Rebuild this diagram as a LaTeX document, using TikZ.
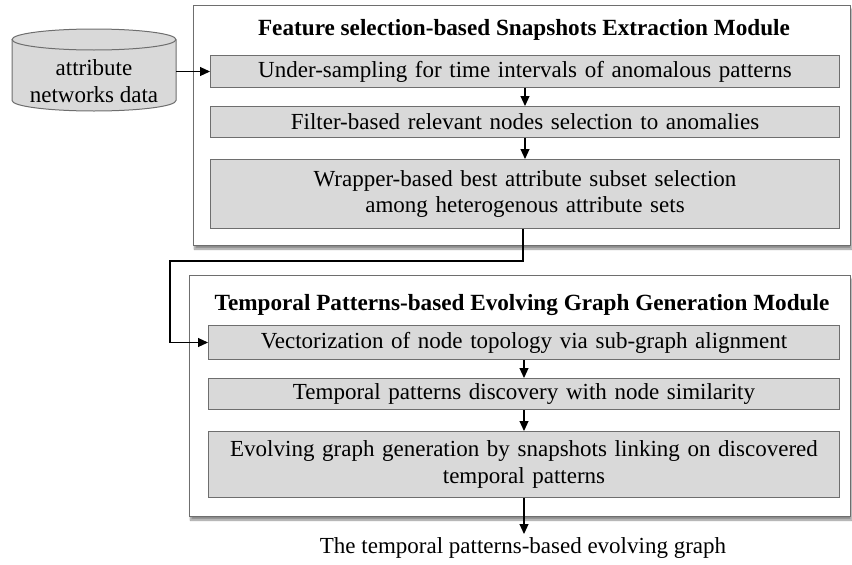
\documentclass[tikz,border=0pt]{standalone}
\usepackage{fontspec}
\setmainfont{Liberation Serif}
\usetikzlibrary{arrows.meta,shadows.blur}
\definecolor{stepgray}{HTML}{D9D9D9}
\definecolor{framegray}{HTML}{6E6E6E}
\tikzset{
  module/.style={draw=framegray, line width=1.1pt, fill=white, anchor=north west,
    inner sep=0pt, blur shadow={shadow xshift=1pt, shadow yshift=-3.5pt, shadow opacity=45, shadow blur steps=6}},
  stepbox/.style={draw=framegray, line width=1pt, fill=stepgray, anchor=north west,
    inner sep=0pt, align=center, text width=625pt},
  flow/.style={line width=1.1pt, -{Triangle[length=10pt,width=9pt]}},
  txt/.style={font=\fontsize{23}{27}\selectfont},
  title/.style={font=\fontsize{23.2}{27}\selectfont\bfseries}
}
\begin{document}
\begin{tikzpicture}[x=1pt,y=-1pt]
\useasboundingbox (0,0) rectangle (852,565);

% database cylinder
\def\cylL{12}\def\cylR{176}\def\cylT{39.5}\def\cylB{100.5}\def\cylRy{10.5}
\fill[stepgray] (\cylL,\cylT) -- (\cylL,\cylB) arc[start angle=180,end angle=360,x radius=82,y radius=-\cylRy] -- (\cylR,\cylT) -- cycle;
\fill[stepgray] (94,\cylT) ellipse[x radius=82,y radius=\cylRy];
\draw[framegray, line width=1pt] (\cylL,\cylT) -- (\cylL,\cylB) arc[start angle=180,end angle=360,x radius=82,y radius=-\cylRy] -- (\cylR,\cylT);
\draw[framegray, line width=1pt] (94,\cylT) ellipse[x radius=82,y radius=\cylRy];
\node[txt, align=center, minimum width=164pt, inner sep=0pt] (db) at (94,81) {attribute\\networks data};

% first module
\node[module, minimum width=657pt, minimum height=240pt] (m1) at (193,5) {};
\node[title] (t1) at (524,30) {Feature selection-based Snapshots Extraction Module};
\node[stepbox, txt, minimum width=629pt, minimum height=32pt] (s1) at (210,55) {Under-sampling for time intervals of anomalous patterns};
\node[stepbox, txt, minimum width=629pt, minimum height=31pt] (s2) at (210,106) {Filter-based relevant nodes selection to anomalies};
\node[stepbox, txt, minimum width=629pt, minimum height=69pt] (s3) at (210,159) {Wrapper-based best attribute subset selection\\among heterogenous attribute sets};

% second module
\node[module, minimum width=661pt, minimum height=241pt] (m2) at (189,275) {};
\node[title] (t2) at (522,305) {Temporal Patterns-based Evolving Graph Generation Module};
\node[stepbox, txt, minimum width=631pt, minimum height=34pt] (s4) at (208,325) {Vectorization of node topology via sub-graph alignment};
\node[stepbox, txt, minimum width=631pt, minimum height=31pt] (s5) at (208,378) {Temporal patterns discovery with node similarity};
\node[stepbox, txt, minimum width=631pt, minimum height=66pt] (s6) at (208,431) {Evolving graph generation by snapshots linking on discovered\\temporal patterns};

% result
\node[txt, anchor=north] (out) at (523,534) {The temporal patterns-based evolving graph};

% connectors
\draw[flow] (\cylR,0 |- s1.west) -- (s1.west);
\draw[flow] (s1.south) -- (s2.north);
\draw[flow] (s2.south) -- (s3.north);
\coordinate (c1) at (523,261);
\coordinate (c2) at (170,261);
\draw[flow] (s3.south -| c1) -- (c1) -- (c2) -- (c2 |- s4.west) -- (s4.west);
\draw[flow] (s4.south) -- (s5.north);
\draw[flow] (s5.south) -- (s6.north);
\draw[flow] (s6.south) -- (s6.south |- out.north);
\end{tikzpicture}
\end{document}
